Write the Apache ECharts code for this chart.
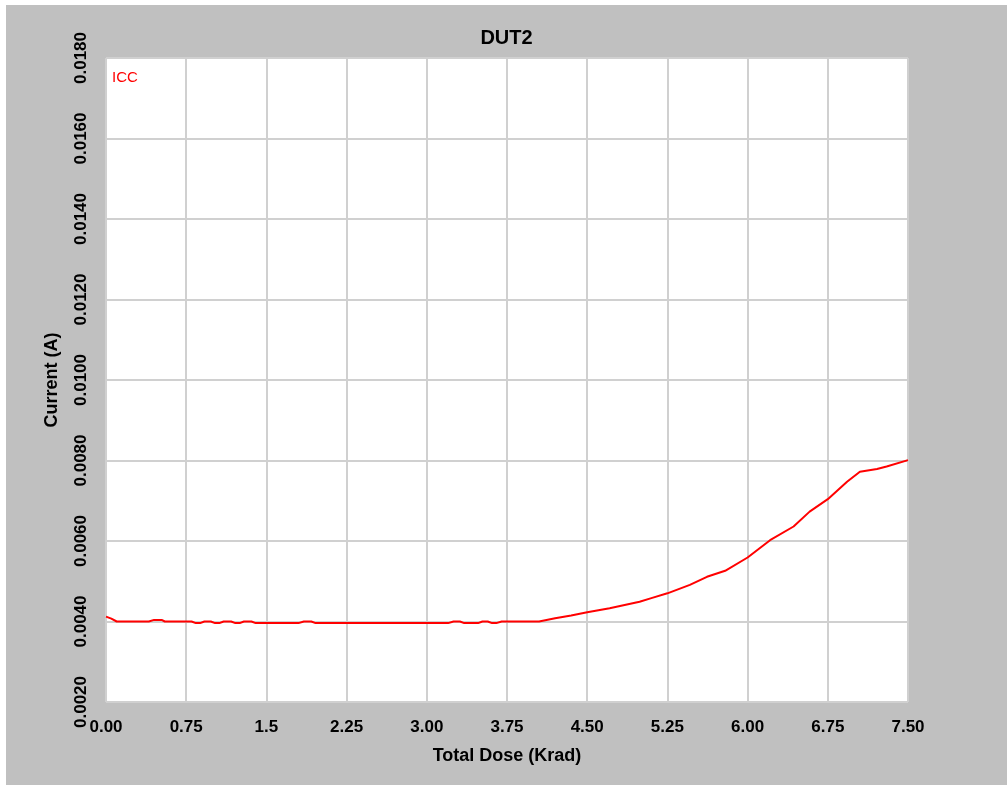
<!DOCTYPE html>
<html>
<head>
<meta charset="utf-8">
<title>DUT2</title>
<script src="https://cdn.jsdelivr.net/npm/echarts@6/dist/echarts.min.js"></script>
<style>
  html, body { margin: 0; padding: 0; background: #ffffff; }
  #chart { position: absolute; left: 6px; top: 5px; width: 1001px; height: 780px; }
</style>
</head>
<body>
<div id="chart"></div>
<script>
// Total dose (Krad) at each sample
const doseKrad = [
  0.00, 0.05, 0.10, 0.40, 0.45, 0.52, 0.55, 0.80, 0.84, 0.88,
  0.92, 0.98, 1.02, 1.06, 1.10, 1.17, 1.21, 1.25, 1.29, 1.36,
  1.40, 1.80, 1.85, 1.92, 1.96, 3.20, 3.25, 3.31, 3.35, 3.48,
  3.52, 3.57, 3.61, 3.65, 3.70, 4.05, 4.20, 4.35, 4.50, 4.71,
  4.99, 5.10, 5.25, 5.46, 5.62, 5.79, 6.00, 6.21, 6.43, 6.58,
  6.75, 6.93, 7.05, 7.21, 7.30, 7.50
];

// Supply current ICC (A) at each sample
const iccAmps = [
  0.00412, 0.00407, 0.00400, 0.00400, 0.00404, 0.00404, 0.00400, 0.00400, 0.00396, 0.00396,
  0.00400, 0.00400, 0.00396, 0.00396, 0.00400, 0.00400, 0.00396, 0.00396, 0.00400, 0.00400,
  0.00396, 0.00396, 0.00400, 0.00400, 0.00396, 0.00396, 0.00400, 0.00400, 0.00396, 0.00396,
  0.00400, 0.00400, 0.00396, 0.00396, 0.00400, 0.00400, 0.00408, 0.00415, 0.00423, 0.00433,
  0.00449, 0.00458, 0.00470, 0.00491, 0.00511, 0.00526, 0.00559, 0.00602, 0.00636, 0.00673,
  0.00704, 0.00747, 0.00772, 0.00779, 0.00785, 0.00801
];

// Axis tick labels
const xTickLabels = ['0.00', '0.75', '1.5', '2.25', '3.00', '3.75', '4.50', '5.25', '6.00', '6.75', '7.50'];
const yTickLabels = ['0.0020', '0.0040', '0.0060', '0.0080', '0.0100', '0.0120', '0.0140', '0.0160', '0.0180'];

const FONT = "'Liberation Sans', Arial, sans-serif";

const chart = echarts.init(document.getElementById('chart'), null, { renderer: 'canvas' });

chart.setOption({
  backgroundColor: '#c0c0c0',
  animation: false,
  title: {
    text: 'DUT2',
    left: 'center',
    top: 23,
    padding: 0,
    textStyle: { fontFamily: FONT, fontWeight: 'bold', fontSize: 20, color: '#000000' }
  },
  legend: {
    data: ['ICC'],
    left: 101,
    top: 65,
    padding: 0,
    icon: 'none',
    itemWidth: 0,
    itemHeight: 0,
    textStyle: { fontFamily: FONT, fontSize: 15, color: '#ff0000', padding: 0 }
  },
  grid: {
    left: 100,
    top: 53,
    right: 99,
    bottom: 83,
    show: true,
    backgroundColor: '#ffffff',
    borderWidth: 0
  },
  xAxis: {
    type: 'value',
    min: 0,
    max: 7.5,
    interval: 0.75,
    name: 'Total Dose (Krad)',
    nameLocation: 'middle',
    nameGap: 45,
    nameTextStyle: { fontFamily: FONT, fontWeight: 'bold', fontSize: 18, color: '#000000' },
    axisLine: { show: false },
    axisTick: { show: false },
    axisLabel: {
      margin: 17,
      fontFamily: FONT,
      fontWeight: 'bold',
      fontSize: 17,
      color: '#000000',
      formatter: v => xTickLabels[Math.round(v / 0.75)]
    },
    splitLine: { show: true, lineStyle: { color: '#d0d0d0', width: 2 } }
  },
  yAxis: {
    type: 'value',
    min: 0.002,
    max: 0.018,
    interval: 0.002,
    name: 'Current (A)',
    nameLocation: 'middle',
    nameGap: 45,
    nameTextStyle: { fontFamily: FONT, fontWeight: 'bold', fontSize: 18, color: '#000000' },
    axisLine: { show: false },
    axisTick: { show: false },
    axisLabel: {
      rotate: 90,
      margin: 16,
      fontFamily: FONT,
      fontWeight: 'bold',
      fontSize: 17,
      color: '#000000',
      formatter: v => yTickLabels[Math.round((v - 0.002) / 0.002)]
    },
    splitLine: { show: true, lineStyle: { color: '#d0d0d0', width: 2 } }
  },
  series: [{
    name: 'ICC',
    type: 'line',
    data: doseKrad.map((d, i) => [d, iccAmps[i]]),
    showSymbol: false,
    symbol: 'none',
    lineStyle: { color: '#ff0000', width: 2 },
    itemStyle: { color: '#ff0000' }
  }]
});
</script>
</body>
</html>
